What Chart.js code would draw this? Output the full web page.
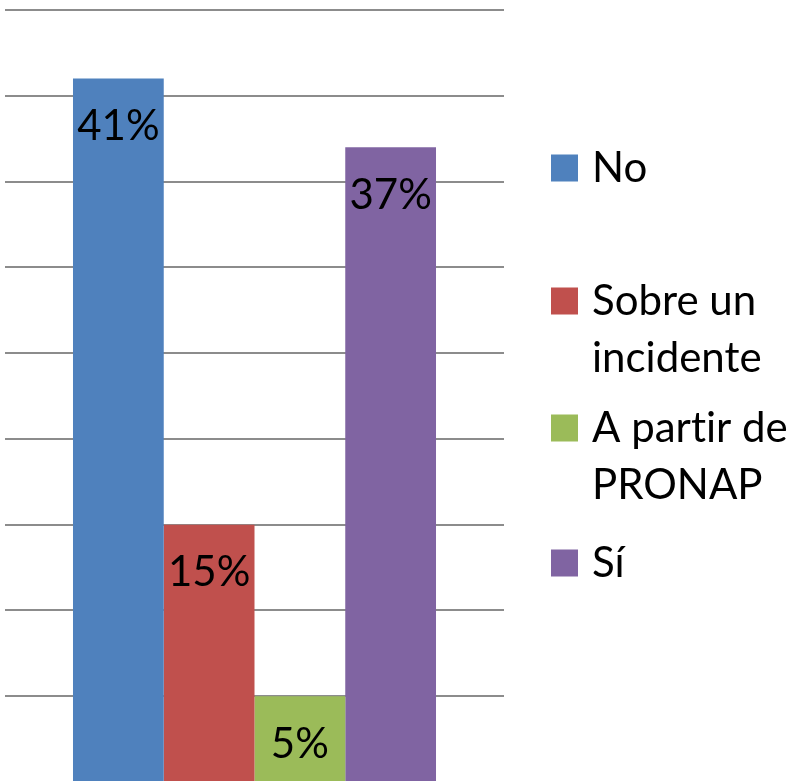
<!DOCTYPE html>
<html>
<head>
<meta charset="utf-8">
<script src="https://cdn.jsdelivr.net/npm/chart.js@4/dist/chart.umd.min.js"></script>
<style>
  html, body { margin: 0; padding: 0; background: #fff; }
  #wrap { width: 801px; height: 782px; position: relative; }
</style>
</head>
<body>
<div id="wrap"><canvas id="chart"></canvas></div>
<script>
const categories = [""];
// \u200C keeps Lato from joining "ti" into a ligature
const seriesNames = [["No"], ["Sobre un", "incidente"], ["A part\u200Cir de", "PRONAP"], ["Sí"]];
const seriesValues = [41, 15, 5, 37];
const seriesColors = ["#4F81BD", "#C0504D", "#9BBB59", "#8064A2"];
const yTicks = [0, 5, 10, 15, 20, 25, 30, 35, 40, 45];

const FONT = "Lato, 'Open Sans', sans-serif";

// values drawn inside the top of each bar
const barLabels = {
  id: "barLabels",
  afterDatasetsDraw(chart) {
    const ctx = chart.ctx;
    ctx.save();
    ctx.font = "42px " + FONT;
    ctx.fillStyle = "#000";
    ctx.textAlign = "center";
    ctx.textBaseline = "middle";
    chart.data.datasets.forEach((ds, i) => {
      const bar = chart.getDatasetMeta(i).data[0];
      ctx.fillText(ds.data[0] + "%", bar.x, bar.y + 48);
    });
    ctx.restore();
  }
};

// legend on the right with wrapped names
const sideLegend = {
  id: "sideLegend",
  afterDraw(chart) {
    const ctx = chart.ctx;
    const x0 = 551, box = 27, textX = 592, lineH = 57;
    const rowY = [168, 301, 428, 563];
    ctx.save();
    ctx.font = "42px " + FONT;
    ctx.textBaseline = "middle";
    ctx.textAlign = "left";
    seriesNames.forEach((lines, i) => {
      ctx.fillStyle = seriesColors[i];
      ctx.fillRect(x0, rowY[i] - box / 2, box, box);
      ctx.fillStyle = "#000";
      lines.forEach((t, j) => ctx.fillText(t, textX, rowY[i] + j * lineH));
    });
    ctx.restore();
  }
};

new Chart(document.getElementById("chart"), {
  type: "bar",
  data: {
    labels: categories,
    datasets: seriesNames.map((n, i) => ({
      label: n.join(" "),
      data: [seriesValues[i]],
      backgroundColor: seriesColors[i],
      borderWidth: 0
    }))
  },
  options: {
    responsive: true,
    maintainAspectRatio: false,
    animation: false,
    layout: { padding: { left: 5, right: 297, top: 10, bottom: 0 } },
    categoryPercentage: 0.7275,
    barPercentage: 1,
    plugins: { legend: { display: false }, tooltip: { enabled: false } },
    scales: {
      x: { display: false },
      y: {
        min: 0,
        max: 45,
        afterBuildTicks: (axis) => { axis.ticks = yTicks.map(v => ({ value: v })); },
        ticks: { display: false },
        border: { display: false },
        grid: {
          color: (c) => (c.tick && c.tick.value === 0 ? "rgba(0,0,0,0)" : "#8c8c8c"),
          lineWidth: 2,
          drawTicks: false
        }
      }
    }
  },
  plugins: [barLabels, sideLegend]
});
</script>
</body>
</html>
